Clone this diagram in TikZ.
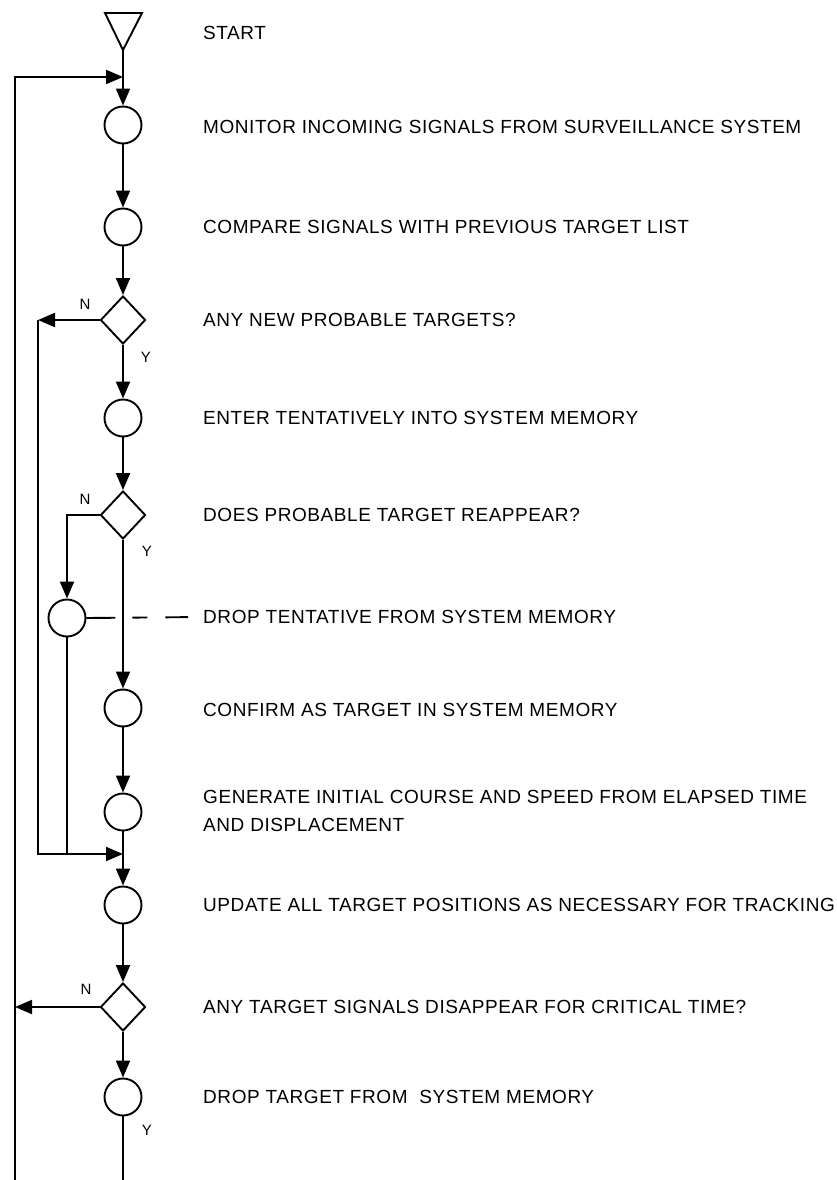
\documentclass[tikz,border=0pt]{standalone}
\usepackage{fontspec}
\setmainfont{Liberation Sans}[LetterSpace=3]
\usetikzlibrary{arrows.meta,shapes.geometric}
\begin{document}
\begin{tikzpicture}[x=1pt,y=-1pt,
  flow/.style={line width=1.9pt},
  arr/.style={flow,-{Triangle[length=17pt,width=14pt]}},
  proc/.style={circle,draw,line width=1.9pt,minimum size=37pt,inner sep=0pt},
  dec/.style={diamond,draw,line width=1.9pt,minimum width=45pt,minimum height=48pt,inner sep=0pt},
  lbl/.style={anchor=west,inner sep=0pt,text height=13.5pt,text depth=0pt,font=\fontsize{19}{28}\selectfont},
  lbltwo/.style={anchor=west,inner sep=0pt,align=left,font=\fontsize{19}{28}\selectfont},
  yn/.style={inner sep=0pt,font=\fontsize{15}{15}\selectfont}]
\useasboundingbox (0,0) rectangle (837,1180);
% start triangle
\draw[flow,line join=miter] (105,13) -- (142,13) -- (123,50) -- cycle;
\coordinate (st) at (123,50);
% nodes
\node[proc] (c1) at (123,125) {};
\node[proc] (c2) at (123,227) {};
\node[dec]  (d1) at (123,320) {};
\node[proc] (c3) at (123,418) {};
\node[dec]  (d2) at (123,515) {};
\node[proc] (c4) at (67,618) {};
\node[proc,draw=none] (c5) at (123,708) {};
\draw[line width=1.9pt] (c5.center) ++(187:18.5) arc[start angle=187,end angle=-238,radius=18.5];
\node[proc] (c6) at (123,812) {};
\node[proc] (c7) at (123,905) {};
\node[dec]  (d3) at (123,1007) {};
\node[proc] (c8) at (123,1097) {};
% junction coordinates
\coordinate (j1) at (123,77);
\coordinate (lt) at (15,77);
\coordinate (lb) at (15,1180);
\coordinate (n1) at (38,320);
\coordinate (j2) at (123,854);
\coordinate (bb) at (123,1180);
% texts
\node[lbl] (t0) at (203,33) {START};
\node[lbl] (t1) at (203,127) {MONITOR INCOMING SIGNALS FROM SURVEILLANCE SYSTEM};
\node[lbl] (t2) at (203,227) {COMPARE SIGNALS WITH PREVIOUS TARGET LIST};
\node[lbl] (t3) at (203,320) {ANY NEW PROBABLE TARGETS?};
\node[lbl] (t4) at (203,418) {ENTER TENTATIVELY INTO SYSTEM MEMORY};
\node[lbl] (t5) at (203,515) {DOES PROBABLE TARGET REAPPEAR?};
\node[lbl] (t6) at (203,617) {DROP TENTATIVE FROM SYSTEM MEMORY};
\node[lbl] (t7) at (203,710) {CONFIRM AS TARGET IN SYSTEM MEMORY};
\node[lbltwo] (t8) at (203,811) {GENERATE INITIAL COURSE AND SPEED FROM ELAPSED TIME\\AND DISPLACEMENT};
\node[lbl] (t9) at (203,905) {UPDATE ALL TARGET POSITIONS AS NECESSARY FOR TRACKING};
\node[lbl] (t10) at (203,1007) {ANY TARGET SIGNALS DISAPPEAR FOR CRITICAL TIME?};
\node[lbl] (t11) at (203,1097) {DROP TARGET FROM \ SYSTEM MEMORY};
% Y/N labels
\node[yn] (n1l) at (85,304) {N};
\node[yn] (y1l) at (146,357) {Y};
\node[yn] (n2l) at (85,499) {N};
\node[yn] (y2l) at (147,551) {Y};
\node[yn] (n3l) at (86,989) {N};
\node[yn] (y3l) at (147,1130) {Y};
% connectors
\draw[flow] (st) -- (j1);
\draw[arr] (lb) |- (j1);
\draw[arr] (j1) -- (c1);
\draw[arr] (c1) -- (c2);
\draw[arr] (c2) -- (d1);
\draw[arr] (d1) -- (c3);
\draw[arr] (c3) -- (d2);
\draw[arr] (d1.west) -- (n1);
\draw[arr] (n1) |- (j2);
\draw[arr] (d2.west) -| (c4.north);
\draw[flow] (c4.south) -- (c4.south |- j2);
\draw[flow,dash pattern=on 29pt off 17pt on 15pt off 18pt on 30pt,shorten >=15pt] (c4.east) -- (t6.west);
\draw[arr] (d2.south) -- (c5.north);
\draw[arr] (c5) -- (c6);
\draw[flow] (c6) -- (j2);
\draw[arr] (j2) -- (c7);
\draw[arr] (c7) -- (d3);
\draw[arr] (d3.west) -- (d3.west -| lt);
\draw[arr] (d3) -- (c8);
\draw[flow] (c8) -- (bb);
\end{tikzpicture}
\end{document}
